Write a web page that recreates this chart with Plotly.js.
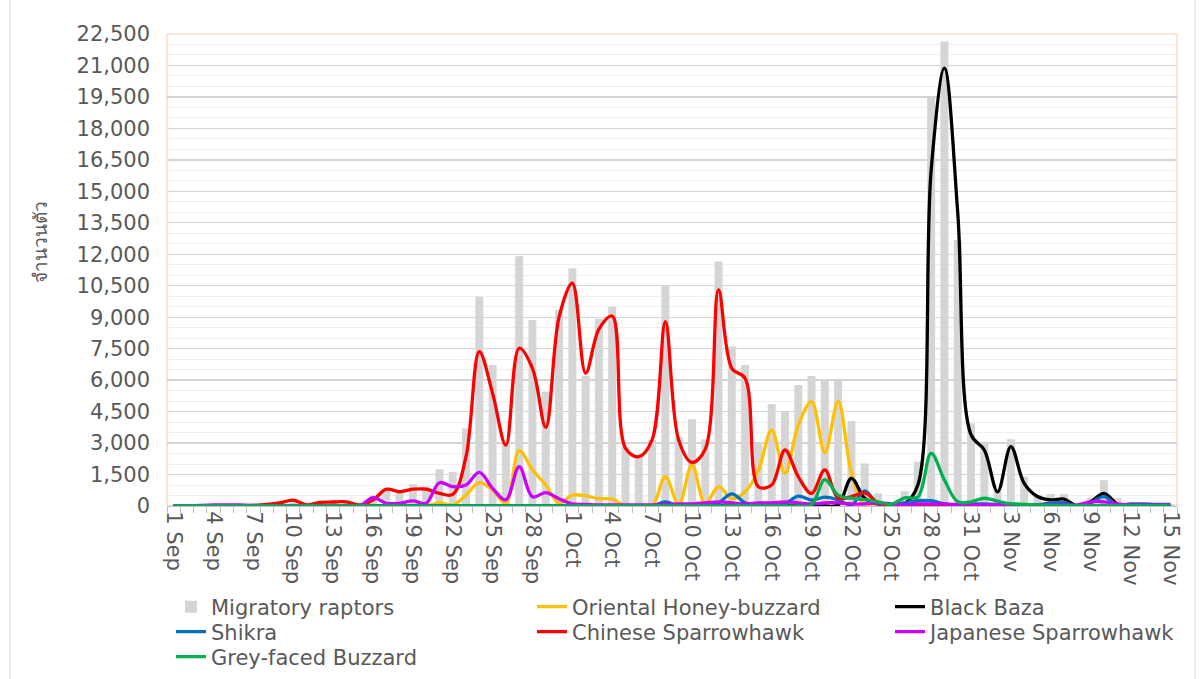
<!DOCTYPE html>
<html>
<head>
<meta charset="utf-8">
<script src="https://cdn.plot.ly/plotly-3.0.1.min.js"></script>
<style>
  html, body { margin: 0; padding: 0; background: #ffffff; }
  #chart { width: 1203px; height: 679px; }
</style>
</head>
<body>
<div id="chart"></div>
<script>
const dates = [
  "1 Sep","2 Sep","3 Sep","4 Sep","5 Sep","6 Sep","7 Sep","8 Sep","9 Sep","10 Sep",
  "11 Sep","12 Sep","13 Sep","14 Sep","15 Sep","16 Sep","17 Sep","18 Sep","19 Sep","20 Sep",
  "21 Sep","22 Sep","23 Sep","24 Sep","25 Sep","26 Sep","27 Sep","28 Sep","29 Sep","30 Sep",
  "1 Oct","2 Oct","3 Oct","4 Oct","5 Oct","6 Oct","7 Oct","8 Oct","9 Oct","10 Oct",
  "11 Oct","12 Oct","13 Oct","14 Oct","15 Oct","16 Oct","17 Oct","18 Oct","19 Oct","20 Oct",
  "21 Oct","22 Oct","23 Oct","24 Oct","25 Oct","26 Oct","27 Oct","28 Oct","29 Oct","30 Oct",
  "31 Oct","1 Nov","2 Nov","3 Nov","4 Nov","5 Nov","6 Nov","7 Nov","8 Nov","9 Nov",
  "10 Nov","11 Nov","12 Nov","13 Nov","14 Nov","15 Nov"
];

// labelled dates on the x axis (every third day)
const tickLabels = [
  "1 Sep","4 Sep","7 Sep","10 Sep","13 Sep","16 Sep","19 Sep","22 Sep","25 Sep","28 Sep",
  "1 Oct","4 Oct","7 Oct","10 Oct","13 Oct","16 Oct","19 Oct","22 Oct","25 Oct","28 Oct",
  "31 Oct","3 Nov","6 Nov","9 Nov","12 Nov","15 Nov"
];

const migratoryRaptors = [
  20,30,40,60,40,30,60,100,150,300,80,180,200,230,80,
  500,840,620,1040,940,1750,1620,3700,9980,6720,3000,11900,8870,5450,9340,
  11330,6200,8910,9500,2830,2350,3150,10530,3300,4130,3180,11650,7600,6720,3000,
  4860,4500,5770,6200,5960,6000,4050,2030,600,150,710,2110,19450,22140,12680,
  3940,3070,700,3180,1400,520,570,570,50,380,1240,380,100,80,100,100
];

const orientalHoneyBuzzard = [
  0,0,0,0,0,0,0,0,0,0,0,0,0,0,0,
  0,0,0,0,0,150,50,520,1110,760,130,2640,1720,1000,140,
  520,480,350,330,0,0,0,1400,50,1950,100,920,350,680,1700,
  3620,1560,3850,4970,2540,4990,1580,0,0,0,0,0,0,0,0,
  0,0,0,0,0,0,0,0,0,0,0,0,0,0,0,0
];

const blackBaza = [
  0,0,0,0,0,0,0,0,0,0,0,0,0,0,0,
  0,0,0,0,0,0,0,0,0,0,0,0,0,0,0,
  0,0,0,0,0,0,0,0,0,0,0,0,0,0,0,
  0,0,0,0,0,50,1320,370,100,0,100,1000,16000,20870,14000,
  3400,2670,680,2830,1080,450,290,330,0,200,600,100,0,0,0,0
];

const shikra = [
  0,0,0,0,0,0,0,0,0,0,0,0,0,0,0,
  0,0,0,0,0,0,0,0,0,0,0,0,0,0,0,
  0,0,0,0,0,0,0,200,0,0,0,150,580,150,0,
  0,100,470,280,420,290,50,720,100,50,150,250,250,100,50,
  100,100,80,100,50,50,150,150,0,150,450,50,100,100,80,80
];

const chineseSparrowhawk = [
  0,0,0,0,0,0,30,80,150,280,50,170,190,200,50,
  280,800,680,800,800,600,550,2350,7360,5370,2900,7520,6560,3750,9000,
  10620,6330,8430,9060,2750,2350,3150,8790,3150,2080,2700,10300,6560,6090,920,
  1000,2670,1400,600,1720,370,450,620,150,0,0,0,0,0,0,
  0,0,0,0,0,0,0,0,0,0,0,0,0,0,0,0
];

const japaneseSparrowhawk = [
  0,0,30,50,50,50,30,0,0,0,0,0,0,0,0,
  400,130,130,240,130,1110,920,1000,1600,840,290,1880,440,640,350,
  100,80,50,50,50,50,50,80,100,100,150,200,150,100,150,
  150,200,150,100,150,150,100,100,150,100,50,100,100,100,50,
  50,50,50,50,50,50,50,50,50,200,200,100,50,50,50,50
];

const greyFacedBuzzard = [
  0,0,0,0,0,0,0,0,0,0,0,0,0,0,0,
  0,0,0,0,0,0,0,0,0,0,0,0,0,0,0,
  0,0,0,0,0,0,0,0,0,0,0,0,0,0,0,
  0,0,0,50,1260,520,370,300,200,80,390,430,2510,1240,200,
  200,370,230,100,80,50,30,20,20,20,20,20,20,20,20,20
];

const yTitle = "จำนวนตัว";

const textColor = "#595959";
const fontFamily = "'DejaVu Sans', sans-serif";
const fontSize = 21;

function lineTrace(name, values, color, legendId) {
  return {
    type: "scatter", mode: "lines", name: name,
    x: dates, y: values,
    legend: legendId,
    line: { color: color, width: 3.3, shape: "spline", smoothing: 1 }
  };
}

const traces = [
  { type: "bar", name: "Migratory raptors", x: dates, y: migratoryRaptors,
    legend: "legend", marker: { color: "#D5D5D5" } },
  lineTrace("Oriental Honey-buzzard", orientalHoneyBuzzard, "#FFC000", "legend2"),
  lineTrace("Black Baza", blackBaza, "#000000", "legend3"),
  lineTrace("Shikra", shikra, "#0070C0", "legend4"),
  lineTrace("Chinese Sparrowhawk", chineseSparrowhawk, "#FF0000", "legend5"),
  lineTrace("Japanese Sparrowhawk", japaneseSparrowhawk, "#CC00FF", "legend6"),
  lineTrace("Grey-faced Buzzard", greyFacedBuzzard, "#00B050", "legend7")
];

const tickText = dates.map(d => tickLabels.includes(d) ? d : "");

// one legend box per entry, placed in a 3-column grid (text x, row y in px)
function legendAt(textX, rowY) {
  return {
    orientation: "h",
    xref: "container", yref: "container",
    x: (textX - 40) / 1203, xanchor: "left",
    y: (679 - rowY) / 679, yanchor: "middle",
    font: { family: fontFamily, size: fontSize, color: textColor },
    bgcolor: "rgba(0,0,0,0)",
    borderwidth: 0
  };
}

const W = 1010, H = 472, L = 167, T = 34;
const px = v => (v - L) / W;
const py = v => (T + H - v) / H;

const layout = {
  width: 1203, height: 679,
  margin: { l: 167, r: 26, t: 34, b: 173, autoexpand: false },
  paper_bgcolor: "#ffffff",
  plot_bgcolor: "#ffffff",
  font: { family: fontFamily, size: fontSize, color: textColor },
  showlegend: true,
  bargap: 0.4,
  xaxis: {
    type: "category",
    range: [-0.5, dates.length - 0.5],
    tickvals: dates, ticktext: tickText,
    tickangle: 90,
    tickson: "boundaries",
    ticks: "outside", ticklen: 6, tickcolor: "#BFBFBF", tickwidth: 1,
    showgrid: false,
    showline: true, linecolor: "#BFBFBF", linewidth: 1,
    tickfont: { family: fontFamily, size: fontSize, color: textColor },
    automargin: false,
    fixedrange: true
  },
  yaxis: {
    range: [0, 22500],
    tick0: 0, dtick: 1500,
    tickformat: ",d",
    showgrid: true, gridcolor: "#D4D4D4", gridwidth: 1.3,
    minor: { dtick: 500, showgrid: true, gridcolor: "#EFEFEF", gridwidth: 1 },
    zeroline: false,
    showline: false,
    ticks: "",
    ticklabelstandoff: 16,
    tickfont: { family: fontFamily, size: fontSize, color: textColor },
    automargin: false,
    fixedrange: true
  },
  legend: legendAt(211, 607),
  legend2: legendAt(572, 607),
  legend3: legendAt(930, 607),
  legend4: legendAt(211, 632),
  legend5: legendAt(572, 632),
  legend6: legendAt(930, 632),
  legend7: legendAt(211, 657),
  shapes: [
    { type: "rect", xref: "paper", yref: "paper", x0: 0, x1: 1, y0: 0, y1: 1,
      line: { color: "#F8CBAD", width: 1 }, layer: "below" },
    { type: "rect", xref: "paper", yref: "paper",
      x0: px(10), x1: px(1195), y0: py(-10), y1: py(690),
      line: { color: "#D9D9D9", width: 1 }, layer: "below" }
  ],
  annotations: [
    { text: yTitle, xref: "paper", yref: "paper",
      x: px(40), y: py(242), xanchor: "center", yanchor: "middle",
      textangle: -90, showarrow: false,
      font: { family: "'Noto Sans', 'DejaVu Sans', sans-serif", size: 19, color: textColor } }
  ]
};

Plotly.newPlot("chart", traces, layout, { displayModeBar: false, staticPlot: true });
</script>
</body>
</html>
